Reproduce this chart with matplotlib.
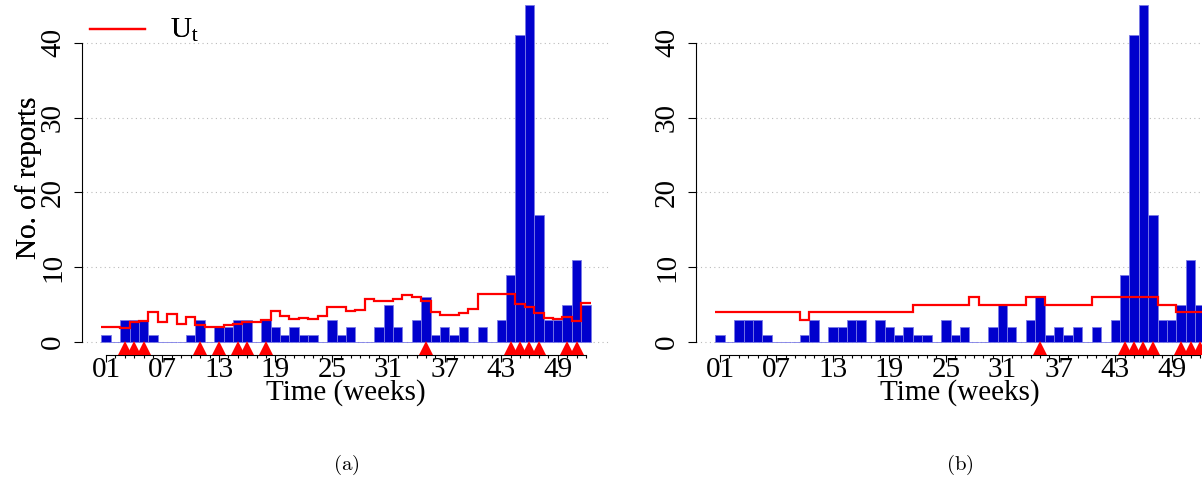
import numpy as np
import matplotlib
matplotlib.use("Agg")
import matplotlib.pyplot as plt

plt.rcParams['font.family'] = ['Liberation Serif', 'DejaVu Serif']
plt.rcParams['mathtext.fontset'] = 'custom'
plt.rcParams['mathtext.rm'] = 'Liberation Serif'
plt.rcParams['mathtext.it'] = 'Liberation Serif:italic'

weeks = np.arange(1, 53)
reports = [1, 0, 3, 3, 3, 1, 0, 0, 0, 1,
           3, 0, 2, 2, 3, 3, 0, 3, 2, 1,
           2, 1, 1, 0, 3, 1, 2, 0, 0, 2,
           5, 2, 0, 3, 6, 1, 2, 1, 2, 0,
           2, 0, 3, 9, 41, 45, 17, 3, 3, 5, 11, 5]

# threshold U_t for the two detection methods
ut_a = [2.0, 2.0, 1.9, 2.67, 2.85, 4.05, 2.72, 3.79, 2.45, 3.39,
        2.23, 1.96, 1.96, 2.3, 2.4, 2.67, 2.67, 2.9, 4.2, 3.45,
        3.1, 3.25, 3.05, 3.45, 4.7, 4.65, 4.19, 4.28, 5.7, 5.48,
        5.44, 5.7, 6.24, 5.97, 5.5, 3.97, 3.56, 3.56, 3.88, 4.37,
        6.46, 6.46, 6.46, 6.46, 5.08, 4.72, 3.92, 3.25, 3.12, 3.34, 2.8, 5.17]
ut_b = [4, 4, 4, 4, 4, 4, 4, 4, 4, 3,
        4, 4, 4, 4, 4, 4, 4, 4, 4, 4,
        4, 5, 5, 5, 5, 5, 5, 6, 5, 5,
        5, 5, 5, 6, 6, 5, 5, 5, 5, 5,
        6, 6, 6, 6, 6, 6, 6, 5, 5, 4, 4, 4]

alarms_a = [3, 4, 5, 11, 13, 15, 16, 18, 35, 44, 45, 46, 47, 50, 51]
alarms_b = [35, 44, 45, 46, 47, 50, 51, 52]

tick_weeks = [1, 7, 13, 19, 25, 31, 37, 43, 49]
tick_labels = ['01', '07', '13', '19', '25', '31', '37', '43', '49']
yticks = [0, 10, 20, 30, 40]

W, H = 1202, 484
fig = plt.figure(figsize=(W / 100, H / 100), dpi=100)

FS = 21
BLUE = '#0000CD'


def panel(x0, ut, alarms, caption):
    ax = fig.add_axes([x0 / W, 1 - 355 / H, 528 / W, 355 / H])
    ax.set_xlim(-1.55, 54.56)
    ax.set_ylim(-1.74, 45.72)

    for y in yticks:
        ax.axhline(y, color='#bbbbbb', lw=0.8, ls=(0, (1, 3)), zorder=0)

    ax.bar(weeks, reports, width=1.0, color=BLUE, edgecolor='#7a7ae6',
           linewidth=0.6, zorder=2)
    ax.stairs(ut, np.arange(0.5, 53.5), baseline=None, color='red',
              lw=1.6, zorder=3)
    ax.plot(alarms, [-0.87] * len(alarms), ls='none', marker='^',
            ms=9.4, color='red', mec='red', mew=0, zorder=4, clip_on=False)

    for s in ['top', 'right']:
        ax.spines[s].set_visible(False)
    ax.spines['left'].set_bounds(0, 40)
    ax.spines['bottom'].set_bounds(1, 52)
    ax.spines['left'].set_linewidth(0.8)
    ax.spines['bottom'].set_linewidth(0.8)

    ax.set_yticks(yticks)
    ax.set_yticklabels([str(v) for v in yticks], rotation=90, va='center',
                       fontsize=FS)
    ax.tick_params(axis='y', length=5.5, width=0.8, pad=6)

    ax.set_xticks(tick_weeks)
    ax.set_xticklabels(tick_labels, fontsize=FS)
    ax.set_xticks(weeks, minor=True)
    ax.tick_params(axis='x', which='major', length=4.8, width=0.8, pad=-3.5)
    ax.tick_params(axis='x', which='minor', length=2.4, width=0.8)

    ax.set_xlabel('Time (weeks)', fontsize=FS, labelpad=-3)
    ax.set_ylabel('No. of reports', fontsize=FS)
    ax.yaxis.set_label_coords((42 - x0) / 528, 0.5)

    # legend entry
    ax.plot([(90 - x0) / 528, (145 - x0) / 528], [0.918, 0.918],
            transform=ax.transAxes, color='red', lw=1.6, clip_on=False)
    ax.text((170 - x0) / 528, 0.915, r'$\mathrm{U_t}$', transform=ax.transAxes,
            fontsize=FS, va='center', ha='left')

    fig.text((x0 + 264) / W, 1 - 465 / H, r'$\mathrm{(' + caption + ')}$',
             ha='center', va='center', fontsize=15, math_fontfamily='cm')
    return ax


panel(82, ut_a, alarms_a, 'a')
panel(696, ut_b, alarms_b, 'b')

fig.savefig('out.png', dpi=100)
